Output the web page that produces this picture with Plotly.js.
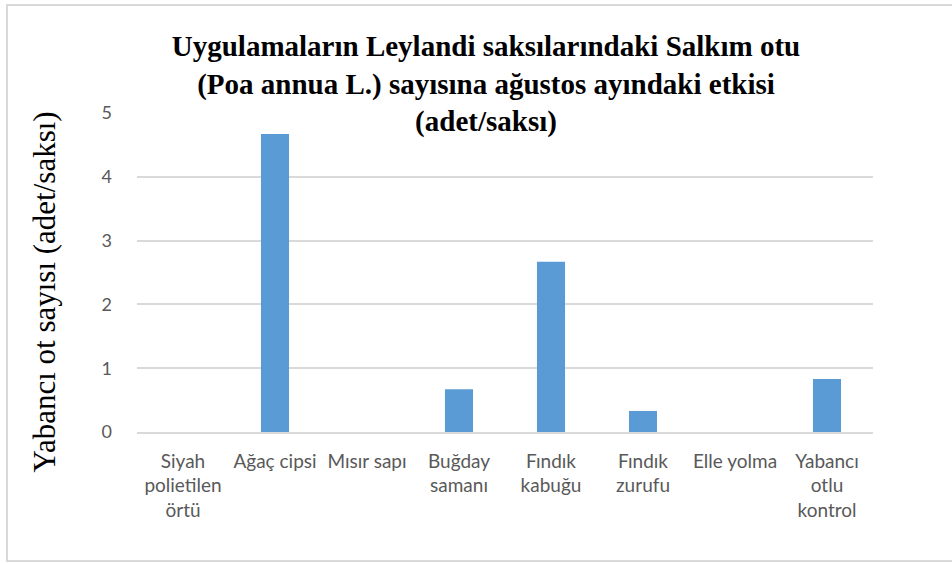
<!DOCTYPE html>
<html>
<head>
<meta charset="utf-8">
<script src="https://cdn.plot.ly/plotly-3.0.1.min.js"></script>
<style>html,body{margin:0;padding:0;background:#fff;}#chart{width:952px;height:563px;}</style>
</head>
<body>
<div id="chart"></div>
<script>
var categories = ["Siyah<br>polietilen<br>örtü", "Ağaç cipsi", "Mısır sapı", "Buğday<br>samanı", "Fındık<br>kabuğu", "Fındık<br>zurufu", "Elle yolma", "Yabancı<br>otlu<br>kontrol"];
var values = [0, 4.67, 0, 0.67, 2.67, 0.33, 0, 0.83];
var yTicks = [0, 1, 2, 3, 4, 5];

var L = 137, R = 79, T = 113, B = 131, W = 952, H = 563;
var pw = W - L - R, ph = H - T - B;
function px(x){ return (x - L) / pw; }
function py(y){ return (H - B - y) / ph; }

var trace = {
  type: 'bar',
  x: categories,
  y: values,
  marker: {color: '#5B9BD5'},
  hoverinfo: 'x+y'
};

var layout = {
  width: W, height: H,
  margin: {l: L, r: R, t: T, b: B, pad: 0},
  paper_bgcolor: '#ffffff',
  plot_bgcolor: '#ffffff',
  bargap: 0.695,
  showlegend: false,
  title: {
    text: '<b>Uygulamaların Leylandi saksılarındaki Salkım otu<br>(Poa annua L.) sayısına ağustos ayındaki etkisi<br>(adet/saksı)</b>',
    font: {family: 'Liberation Serif, Times New Roman, serif', size: 29, color: '#000000'},
    x: 486 / W, xanchor: 'center', xref: 'container',
    y: 1 - 56 / H, yanchor: 'top', yref: 'container'
  },
  xaxis: {
    type: 'category',
    tickfont: {family: 'Lato, Calibri, sans-serif', size: 19, color: '#595959'},
    showgrid: false,
    showline: true, linecolor: '#D9D9D9', linewidth: 1.5,
    ticks: '',
    ticklabelstandoff: 11,
    tickangle: 0
  },
  yaxis: {
    range: [0, 5],
    tickvals: yTicks,
    ticktext: yTicks.map(String),
    tickfont: {family: 'Lato, Calibri, sans-serif', size: 18, color: '#595959'},
    showgrid: true, gridcolor: '#D9D9D9', gridwidth: 1.5,
    zeroline: false,
    showline: false,
    ticks: '',
    ticklabelstandoff: 24,
    title: {
      text: 'Yabancı ot sayısı (adet/saksı)&nbsp;&nbsp;&nbsp;&nbsp;&nbsp;',
      font: {family: 'Liberation Serif, Times New Roman, serif', size: 31, color: '#000000'},
      standoff: 36
    }
  },
  shapes: [
    {type: 'rect', xref: 'paper', yref: 'paper',
     x0: px(7), x1: px(960), y0: py(561), y1: py(5),
     line: {color: '#D9D9D9', width: 2}, fillcolor: 'rgba(0,0,0,0)', layer: 'below'}
  ]
};

Plotly.newPlot('chart', [trace], layout, {displayModeBar: false, responsive: false});
</script>
</body>
</html>
